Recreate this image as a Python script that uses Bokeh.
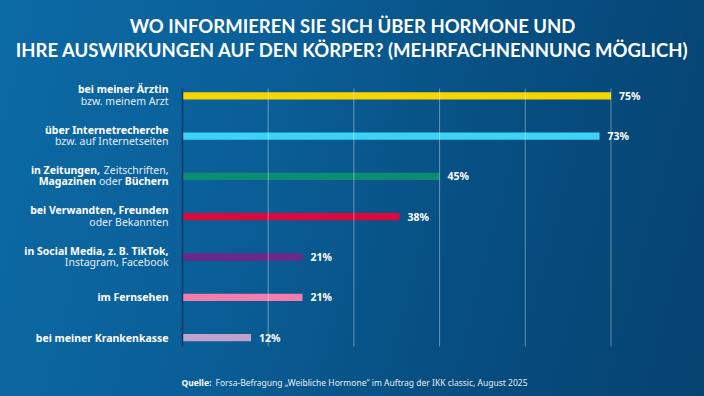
from bokeh.plotting import figure
from bokeh.models import ColumnDataSource, Range1d
from bokeh.core.properties import value
from bokeh.embed import file_html
from bokeh.resources import INLINE

# ---- data ----
line1 = ["bei meiner Ärztin", "über Internetrecherche", "", "bei Verwandten, Freunden",
         "in Social Media, z. B. TikTok,", "im Fernsehen", "bei meiner Krankenkasse"]
line2 = ["bzw. meinem Arzt", "bzw. auf Internetseiten", "", "oder Bekannten",
         "Instagram, Facebook", "", ""]
mixed_row = 2
mixed_line1 = [("in Zeitungen,", "bold"), ("Zeitschriften,", "normal")]
mixed_line2 = [("Magazinen", "bold"), ("oder", "normal"), ("Büchern", "bold")]
values = [75, 73, 45, 38, 21, 21, 12]
colors = ["#f7d500", "#3cd3f4", "#0a8d72", "#dc0a3c", "#6b2887", "#f47db0", "#bfa3cc"]
grid_ticks = [15, 30, 45, 60, 75]
title1 = "WO INFORMIEREN SIE SICH ÜBER HORMONE UND"
title2 = "IHRE AUSWIRKUNGEN AUF DEN KÖRPER? (MEHRFACHNENNUNG MÖGLICH)"
source_bold = "Quelle:"
source_text = "Forsa-Befragung „Weibliche Hormone“ im Auftrag der IKK classic, August 2025"

FONT = value("Noto Sans")
LABEL_SIZE = "10.5px"
W, H = 688, 380
PX_PER_PCT = 5.713     # horizontal scale
ROW_PX = 40.3          # row pitch
X0_PX = 174            # where 0% sits inside the figure
ROW0_PX = 87.3         # centre of the first row inside the figure

n = len(values)
idx = list(range(n))

x_range = Range1d(-X0_PX / PX_PER_PCT, (W - X0_PX) / PX_PER_PCT)
y_range = Range1d((H - ROW0_PX) / ROW_PX, -ROW0_PX / ROW_PX)

p = figure(width=W, height=H, output_backend="svg", toolbar_location=None,
           x_range=x_range, y_range=y_range,
           min_border=0, min_border_left=0, min_border_right=0,
           min_border_top=0, min_border_bottom=0)
p.background_fill_alpha = 0
p.border_fill_alpha = 0
p.outline_line_color = None
p.axis.visible = False
p.grid.visible = False

top, bottom = -0.18, n - 1 + 0.22

src = ColumnDataSource(dict(y=idx, v=values, c=colors, t=[f"{v}%" for v in values]))
p.hbar(y="y", left=0, right="v", height=0.18, fill_color="c", line_color=None, source=src)

# grid lines and axis line
p.segment(x0=grid_ticks, x1=grid_ticks, y0=[top] * len(grid_ticks), y1=[bottom] * len(grid_ticks),
          line_color="#ffffff", line_alpha=0.38, line_width=1)
p.segment(x0=[0], x1=[0], y0=[top], y1=[bottom], line_color="#0a3a63", line_width=1.5)

p.text(x="v", y="y", text="t", source=src, x_offset=8, text_align="left",
       text_baseline="middle", text_color="white", text_font=FONT,
       text_font_style="bold", text_font_size="10.5px")

# category labels
y1, t1, y2, t2, ys, ts = [], [], [], [], [], []
for i in idx:
    if i == mixed_row:
        continue
    if line2[i]:
        y1.append(i - 0.16); t1.append(line1[i])
        y2.append(i + 0.12); t2.append(line2[i])
    else:
        ys.append(i); ts.append(line1[i])

REG_COLOR = "#e2ecf5"
common = dict(x_offset=-14, text_align="right", text_baseline="middle",
              text_font=FONT, text_font_size=LABEL_SIZE)
p.text(x=[0] * len(y1), y=y1, text=t1, text_font_style="bold", text_color="white", **common)
p.text(x=[0] * len(y2), y=y2, text=t2, text_font_style="normal", text_color=REG_COLOR, **common)
p.text(x=[0] * len(ys), y=ys, text=ts, text_font_style="bold", text_color="white", **common)

line1_offsets = [-82.5, -14]
line2_offsets = [-86.5, -60.5, -14]
for (txt, st), off in zip(mixed_line1, line1_offsets):
    p.text(x=[0], y=[mixed_row - 0.16], text=[txt], x_offset=off, text_align="right",
           text_baseline="middle", text_color="white" if st == "bold" else REG_COLOR,
           text_font=FONT, text_font_style=st, text_font_size=LABEL_SIZE)
for (txt, st), off in zip(mixed_line2, line2_offsets):
    p.text(x=[0], y=[mixed_row + 0.12], text=[txt], x_offset=off, text_align="right",
           text_baseline="middle", text_color="white" if st == "bold" else REG_COLOR,
           text_font=FONT, text_font_style=st, text_font_size=LABEL_SIZE)

# titles
xc = (x_range.start + x_range.end) / 2
p.text(x=[xc, xc], y=[-1.72, -1.125], text=[title1, title2], text_align="center",
       text_baseline="middle", text_color="white", text_font=value("Lato"),
       text_font_style="bold", text_font_size="18.5px")

# source
p.text(x=[0], y=[7.115], text=[source_bold], x_offset=-1, text_align="left",
       text_baseline="middle", text_color="white", text_font=FONT,
       text_font_style="bold", text_font_size="8.5px")
p.text(x=[0], y=[7.115], text=[source_text], x_offset=33, text_align="left",
       text_baseline="middle", text_color=REG_COLOR, text_font=FONT,
       text_font_style="normal", text_font_size="8.5px")

css = ("<style>html,body{margin:0;padding:0;height:100%;}"
       "body{padding:8px;box-sizing:border-box;"
       "background:linear-gradient(105deg,#0c6aa5 0%,#0a5f98 35%,#074f82 65%,#054270 100%);}"
       "</style>")
html = file_html(p, INLINE)
html = html.replace("</head>", css + "</head>", 1)
open("out.html", "w").write(html)
